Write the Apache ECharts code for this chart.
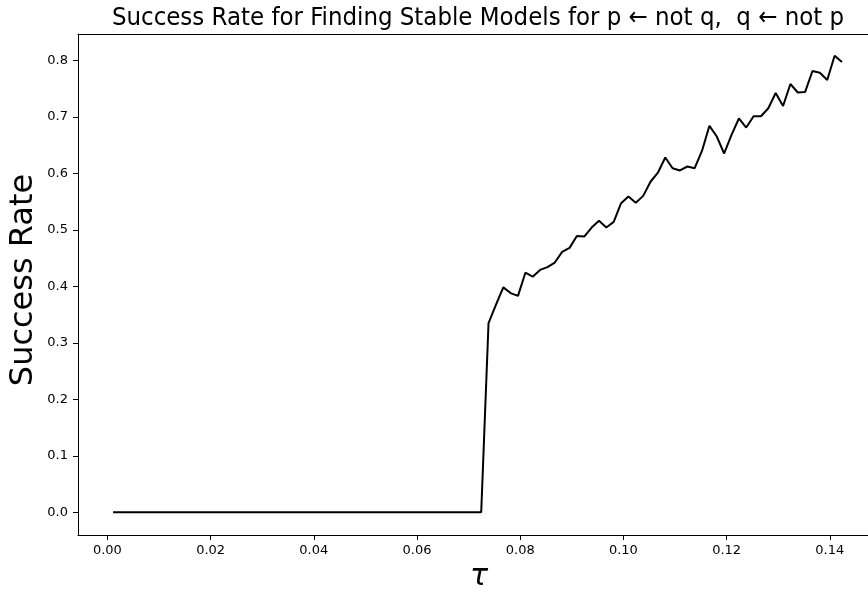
<!DOCTYPE html>
<html>
<head>
<meta charset="utf-8">
<script src="https://cdn.jsdelivr.net/npm/echarts@6/dist/echarts.min.js"></script>
<style>
  html, body { margin: 0; padding: 0; background: #ffffff; }
  #chart { width: 868px; height: 589px; }
</style>
</head>
<body>
<div id="chart"></div>
<script>
// Threshold values (tau) at which the success rate was measured
const tauValues = [
  0.00109, 0.00252, 0.00394, 0.00537, 0.00680, 0.00822, 0.00965, 0.01108, 0.01251, 0.01393,
  0.01536, 0.01679, 0.01821, 0.01964, 0.02107, 0.02249, 0.02392, 0.02535, 0.02677, 0.02820,
  0.02963, 0.03106, 0.03248, 0.03391, 0.03534, 0.03676, 0.03819, 0.03962, 0.04104, 0.04247,
  0.04390, 0.04532, 0.04675, 0.04818, 0.04960, 0.05103, 0.05246, 0.05389, 0.05531, 0.05674,
  0.05817, 0.05959, 0.06102, 0.06245, 0.06387, 0.06530, 0.06673, 0.06815, 0.06958, 0.07101,
  0.07244, 0.07386, 0.07529, 0.07672, 0.07814, 0.07957, 0.08100, 0.08242, 0.08385, 0.08528,
  0.08670, 0.08813, 0.08956, 0.09098, 0.09241, 0.09384, 0.09527, 0.09669, 0.09812, 0.09955,
  0.10097, 0.10240, 0.10383, 0.10525, 0.10668, 0.10811, 0.10953, 0.11096, 0.11239, 0.11381,
  0.11524, 0.11667, 0.11810, 0.11952, 0.12095, 0.12238, 0.12380, 0.12523, 0.12666, 0.12808,
  0.12951, 0.13094, 0.13236, 0.13379, 0.13522, 0.13664, 0.13807, 0.13950, 0.14093, 0.14235
];

// Fraction of runs that found a stable model at each tau
const successRate = [
  0, 0, 0, 0, 0, 0, 0, 0, 0, 0,
  0, 0, 0, 0, 0, 0, 0, 0, 0, 0,
  0, 0, 0, 0, 0, 0, 0, 0, 0, 0,
  0, 0, 0, 0, 0, 0, 0, 0, 0, 0,
  0, 0, 0, 0, 0, 0, 0, 0, 0, 0,
  0, 0.335, 0.367, 0.398, 0.388, 0.383, 0.424, 0.417, 0.429, 0.434,
  0.442, 0.461, 0.468, 0.489, 0.488, 0.504, 0.516, 0.504, 0.514, 0.547,
  0.559, 0.548, 0.560, 0.585, 0.601, 0.628, 0.609, 0.605, 0.612, 0.609,
  0.640, 0.684, 0.665, 0.635, 0.668, 0.697, 0.681, 0.701, 0.701, 0.715,
  0.742, 0.719, 0.758, 0.743, 0.744, 0.781, 0.778, 0.765, 0.808, 0.797
];

// Tick positions and their printed labels
const xTicks = [0.00, 0.02, 0.04, 0.06, 0.08, 0.10, 0.12, 0.14];
const xTickLabels = ['0.00', '0.02', '0.04', '0.06', '0.08', '0.10', '0.12', '0.14'];
const yTicks = [0.0, 0.1, 0.2, 0.3, 0.4, 0.5, 0.6, 0.7, 0.8];
const yTickLabels = ['0.0', '0.1', '0.2', '0.3', '0.4', '0.5', '0.6', '0.7', '0.8'];

const titleText = 'Success Rate for Finding Stable Models for p \u2190 not q,  q \u2190 not p';
const yName = 'Success Rate';
const xName = '\u03C4';

const points = tauValues.map((t, i) => [t, successRate[i]]);

const chart = echarts.init(document.getElementById('chart'), null, { renderer: 'canvas' });

const tickFont = { fontFamily: 'DejaVu Sans', fontSize: 13, color: '#000000' };
const lineStyle = { color: '#000000', width: 1 };
const labelFor = (ticks, labels) => (v) => labels[ticks.findIndex(t => Math.abs(t - v) < 1e-9)] ?? '';

// The plot frame runs past the right edge of the canvas, so only the
// left, bottom and top spines are drawn.
const xMin = -0.0057;
const xMax = 0.1474;

chart.setOption({
  animation: false,
  backgroundColor: '#ffffff',
  grid: { left: 78, right: 0, top: 34, bottom: 54, containLabel: false, show: false },
  xAxis: [
    {
      type: 'value',
      min: xMin,
      max: xMax,
      position: 'bottom',
      axisLine: { show: true, onZero: false, lineStyle },
      splitLine: { show: false },
      axisTick: { show: true, length: 5, inside: false, lineStyle, customValues: xTicks },
      axisLabel: { ...tickFont, margin: 9, customValues: xTicks, formatter: labelFor(xTicks, xTickLabels) }
    },
    {
      type: 'value',
      min: xMin,
      max: xMax,
      position: 'top',
      axisLine: { show: true, onZero: false, lineStyle },
      splitLine: { show: false },
      axisTick: { show: false },
      axisLabel: { show: false }
    }
  ],
  yAxis: {
    type: 'value',
    min: -0.0402,
    max: 0.8465,
    axisLine: { show: true, onZero: false, lineStyle },
    splitLine: { show: false },
    axisTick: { show: true, length: 5, inside: false, lineStyle, customValues: yTicks },
    axisLabel: { ...tickFont, margin: 10, customValues: yTicks, formatter: labelFor(yTicks, yTickLabels) }
  },
  series: [{
    type: 'line',
    xAxisIndex: 0,
    data: points,
    showSymbol: false,
    symbol: 'none',
    lineStyle: { color: '#000000', width: 2 },
    emphasis: { disabled: true }
  }],
  graphic: [
    {
      type: 'text',
      x: 478,
      y: 18,
      style: {
        text: titleText,
        fontFamily: 'DejaVu Sans Condensed, DejaVu Sans',
        fontSize: 25.5,
        fill: '#000000',
        align: 'center',
        verticalAlign: 'middle'
      }
    },
    {
      type: 'text',
      x: 24,
      y: 280,
      rotation: Math.PI / 2,
      style: {
        text: yName,
        fontFamily: 'DejaVu Sans',
        fontSize: 32,
        fill: '#000000',
        align: 'center',
        verticalAlign: 'middle'
      }
    },
    {
      type: 'text',
      x: 479,
      y: 577,
      style: {
        text: xName,
        fontFamily: 'DejaVu Sans',
        fontStyle: 'italic',
        fontSize: 30,
        fill: '#000000',
        align: 'center',
        verticalAlign: 'middle'
      }
    }
  ]
});
</script>
</body>
</html>
